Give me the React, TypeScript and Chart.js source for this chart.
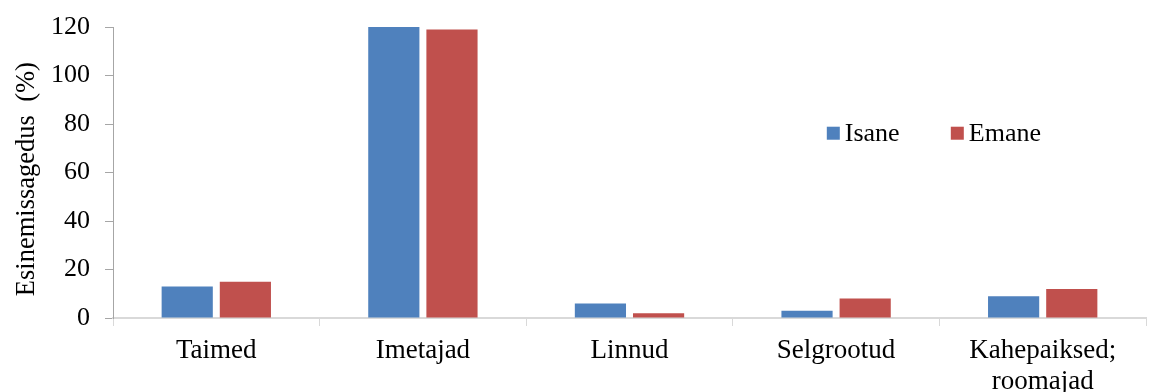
import React, { useEffect, useRef } from "react";
import { Chart, registerables } from "chart.js";

Chart.register(...registerables);

const categories: (string | string[])[] = ["Taimed", "Imetajad", "Linnud", "Selgrootud", ["Kahepaiksed;", "roomajad"]];
const isane = [13, 120, 6, 3, 9];
const emane = [15, 119, 2, 8, 12];
const seriesNames = ["Isane", "Emane"];
const seriesColors = ["#4f81bd", "#c0504d"];
const yTitle = "Esinemissagedus  (%)  ";

const FONT = "'Liberation Serif', 'Times New Roman', serif";

const legendPlugin = {
  id: "innerLegend",
  afterDraw(chart: any) {
    const { ctx, chartArea } = chart;
    const w = chartArea.right - chartArea.left;
    const h = chartArea.bottom - chartArea.top;
    let x = chartArea.left + w * 0.691;
    const y = chartArea.top + h * 0.365;
    ctx.save();
    ctx.font = `26px ${FONT}`;
    ctx.textBaseline = "middle";
    ctx.fillStyle = "#000";
    chart.data.datasets.forEach((ds: any) => {
      ctx.fillStyle = ds.backgroundColor;
      ctx.fillRect(x, y - 6.5, 13, 13);
      ctx.fillStyle = "#000";
      ctx.fillText(ds.label, x + 18, y + 1);
      x += 124;
    });
    ctx.restore();
  },
};

export default function App() {
  const ref = useRef<HTMLCanvasElement>(null);
  useEffect(() => {
    if (!ref.current) return;
    const chart = new Chart(ref.current, {
      type: "bar",
      data: {
        labels: categories,
        datasets: [
          { label: seriesNames[0], data: isane, backgroundColor: seriesColors[0] },
          { label: seriesNames[1], data: emane, backgroundColor: seriesColors[1] },
        ],
      },
      plugins: [legendPlugin],
      options: {
        animation: false,
        responsive: false,
        maintainAspectRatio: false,
        layout: { padding: { top: 27, right: 8, left: 0, bottom: 0 } },
        datasets: { bar: { categoryPercentage: 0.563, barPercentage: 0.88 } },
        plugins: { legend: { display: false }, tooltip: { enabled: false } },
        scales: {
          x: {
            grid: { drawOnChartArea: false, drawTicks: true, tickLength: 8, color: "#d9d9d9", offset: true },
            border: { color: "#d9d9d9", width: 2 },
            ticks: { color: "#000", font: { family: FONT, size: 27, lineHeight: 1.15 }, padding: 9, maxRotation: 0, autoSkip: false },
            afterFit(scale: any) { scale.height = 74; },
          },
          y: {
            min: 0,
            max: 120,
            ticks: { stepSize: 20, color: "#000", font: { family: FONT, size: 26 }, padding: 15 },
            grid: { drawOnChartArea: false, drawTicks: true, tickLength: 8, color: "#a6a6a6" },
            border: { color: "#a6a6a6", width: 1 },
            title: { display: true, text: yTitle, color: "#000", font: { family: FONT, size: 26.5 }, padding: { top: 11, bottom: 0 } },
            afterFit(scale: any) {
              scale.width = 113;
              scale.paddingTop = 0;
              scale.paddingBottom = 0;
            },
          },
        },
      },
    });
    return () => chart.destroy();
  }, []);
  return (
    <div style={{ position: "absolute", left: 0, top: 0, width: 1154, height: 392, background: "#fff" }}>
      <canvas ref={ref} width={1154} height={392} style={{ width: 1154, height: 392 }} />
    </div>
  );
}
